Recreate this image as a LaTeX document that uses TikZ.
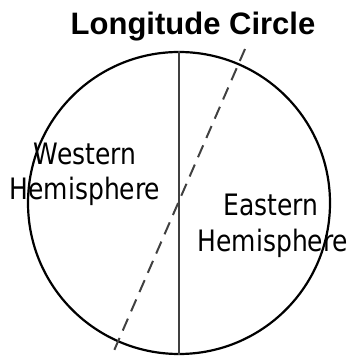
\documentclass[tikz,border=0pt]{standalone}
\usepackage{fontspec}
\usepackage{xcolor}
\usetikzlibrary{calc,positioning}
\newfontfamily\titlefont{Liberation Sans}
\newfontfamily\handfont{DejaVu Sans}
\definecolor{darkgray}{rgb}{0.25,0.25,0.25}
\newcommand{\tallword}[1]{\scalebox{1}[1.18]{#1}}
\tikzset{
  hemilabel/.style={anchor=base, inner sep=0pt, font=\handfont\fontsize{25}{25}\selectfont},
  meridian/.style={line width=2pt, darkgray}
}

\begin{document}
\begin{tikzpicture}[x=1pt,y=1pt]
            \useasboundingbox (0,0) rectangle (350,356);
            % Title above the circle
            \node[anchor=base, inner sep=0pt, font=\titlefont\bfseries\fontsize{31}{31}\selectfont] (title) at (193,321) {Longitude Circle};
            % The circle itself
            \coordinate (ctr) at (179,153);
            \node[draw, circle, line width=2.2pt, minimum size=302pt, inner sep=0pt] (globe) at (ctr) {};
            % Prime meridian
            \draw[meridian] (globe.north) -- (globe.south);
            % Tilted dashed line
            \coordinate (dtop) at (245,307);
            \coordinate (dbot) at (113,3);
            \draw[meridian, dash pattern=on 13pt off 8pt] (dtop) -- (dbot);
            % Label the two halves
            \node[hemilabel] (west1) at (85,191) {\tallword{Western}};
            \node[hemilabel] (west2) at (85,156) {\tallword{Hemisphere}};
            \node[hemilabel] (east1) at (271,140) {\tallword{Eastern}};
            \node[hemilabel] (east2) at (273,104) {\tallword{Hemisphere}};
          \end{tikzpicture}
\end{document}
